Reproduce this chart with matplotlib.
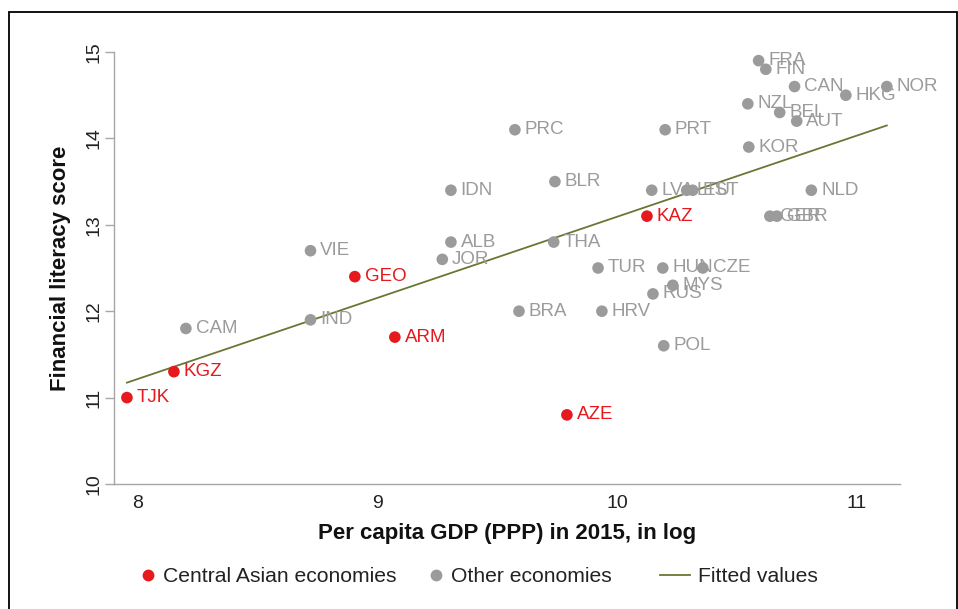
import numpy as np
import matplotlib
matplotlib.use("Agg")
import matplotlib.pyplot as plt
from matplotlib.lines import Line2D
from matplotlib.patches import Rectangle

plt.rcParams['font.family'] = ['Liberation Sans', 'DejaVu Sans']

central_codes = ["TJK", "KGZ", "GEO", "ARM", "KAZ", "AZE"]
central_gdp = [7.954, 8.15, 8.905, 9.072, 10.124, 9.79]
central_score = [11.0, 11.3, 12.4, 11.7, 13.1, 10.8]

other_codes = ["CAM", "VIE", "IND", "IDN", "ALB", "JOR", "BRA", "PRC", "BLR", "THA",
               "TUR", "HRV", "LVA", "LTU", "EST", "HUN", "CZE", "MYS", "RUS", "POL",
               "PRT", "NZL", "KOR", "FRA", "FIN", "CAN", "BEL", "AUT", "HKG", "NOR",
               "NLD", "GER", "GBR"]
other_gdp = [8.20, 8.72, 8.72, 9.306, 9.306, 9.27, 9.59, 9.573, 9.74, 9.735,
             9.92, 9.936, 10.144, 10.29, 10.315, 10.19, 10.357, 10.232, 10.149, 10.194,
             10.20, 10.545, 10.549, 10.59, 10.62, 10.74, 10.678, 10.749, 10.954, 11.125,
             10.81, 10.637, 10.666]
other_score = [11.8, 12.7, 11.9, 13.4, 12.8, 12.6, 12.0, 14.1, 13.5, 12.8,
               12.5, 12.0, 13.4, 13.4, 13.4, 12.5, 12.5, 12.3, 12.2, 11.6,
               14.1, 14.4, 13.9, 14.9, 14.8, 14.6, 14.3, 14.2, 14.5, 14.6,
               13.4, 13.1, 13.1]

legend_labels = ["Central Asian economies", "Other economies", "Fitted values"]

RED = "#e5191e"
GRAY = "#9b9b9b"
OLIVE = "#6a7634"

fig = plt.figure(figsize=(9.58, 6.09), dpi=100)
ax = fig.add_axes([114/958, 1-484/609, (900-114)/958, (484-52)/609])

# fitted values (OLS over all economies)
all_x = np.array(central_gdp + other_gdp)
all_y = np.array(central_score + other_score)
b, a = np.polyfit(all_x, all_y, 1)
xf = np.array([all_x.min(), all_x.max()])
ax.plot(xf, a + b*xf, color=OLIVE, lw=1.3, zorder=2)

ax.scatter(other_gdp, other_score, s=70, color=GRAY, edgecolors='none', zorder=3)
ax.scatter(central_gdp, central_score, s=70, color=RED, edgecolors='none', zorder=4)

for c, x, y in zip(other_codes, other_gdp, other_score):
    ax.annotate(c, (x, y), xytext=(7, 0), textcoords='offset points',
                va='center', ha='left', color=GRAY, fontsize=13.5, zorder=5)
for c, x, y in zip(central_codes, central_gdp, central_score):
    ax.annotate(c, (x, y), xytext=(7, 0), textcoords='offset points',
                va='center', ha='left', color=RED, fontsize=13.5, zorder=5)

ax.set_xlim(7.90, 11.18)
ax.set_ylim(10, 15)
ax.set_xticks([8, 9, 10, 11])
ax.set_yticks([10, 11, 12, 13, 14, 15])
for s in ['top', 'right']:
    ax.spines[s].set_visible(False)
for s in ['left', 'bottom']:
    ax.spines[s].set_color('#a6a6a6')
    ax.spines[s].set_linewidth(1.0)
ax.tick_params(axis='x', length=0, pad=8, labelsize=14, labelcolor='#222222')
ax.tick_params(axis='y', length=6.5, width=1.0, color='#a6a6a6', pad=1.5,
               labelsize=14, labelcolor='#222222', labelrotation=90)
for lab in ax.get_yticklabels():
    lab.set_va('center')

ax.set_xlabel("Per capita GDP (PPP) in 2015, in log", fontsize=16, fontweight='bold',
              color='#111111', labelpad=8)
ax.set_ylabel("Financial literacy score", fontsize=16, fontweight='bold',
              color='#111111', labelpad=11)

handles = [
    Line2D([], [], marker='o', ls='none', color=RED, markersize=8.5, markeredgewidth=0),
    Line2D([], [], marker='o', ls='none', color=GRAY, markersize=8.5, markeredgewidth=0),
    Line2D([], [], color=OLIVE, lw=1.3),
]
leg_x = [133/958, 421/958, 660/958]
leg_pad = [0.0, 0.0, 0.34]
for h, lab, lx, pad in zip(handles, legend_labels, leg_x, leg_pad):
    lg = fig.legend([h], [lab], loc='center left', bbox_to_anchor=(lx, 1-577/609),
                    frameon=False, fontsize=15.2, handlelength=1.44, handletextpad=pad,
                    borderpad=0, borderaxespad=0, labelcolor='#222222')

fig.patches.append(Rectangle((9/958, -0.05), (957-9)/958, 1-12/609+0.05,
                             transform=fig.transFigure, fill=False,
                             edgecolor='black', lw=1.3))

fig.savefig("out.png", dpi=100)
